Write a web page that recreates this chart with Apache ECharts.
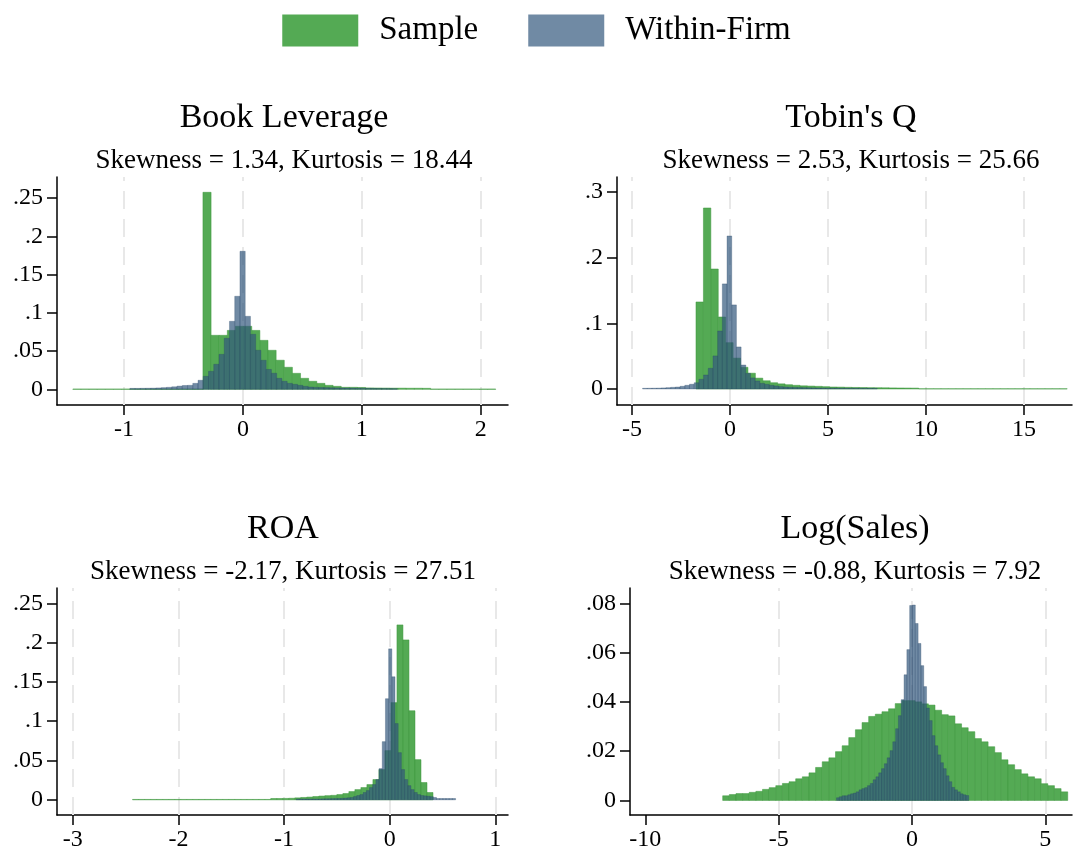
<!DOCTYPE html>
<html>
<head>
<meta charset="utf-8">
<script src="https://cdn.jsdelivr.net/npm/echarts@6/dist/echarts.min.js"></script>
<style>
  html, body { margin: 0; padding: 0; background: #fff; }
  #chart { width: 1073px; height: 852px; }
</style>
</head>
<body>
<div id="chart"></div>
<script>
// histogram bins: start of first bin, bin width, density of each bin
var levSampleStart = -1.431, levSampleWidth = 0.0684
var levSample = [0.0004, 0.0004, 0.0004, 0.0004, 0.0004, 0.0004, 0.0004, 0.0004, 0.0004, 0.0004, 0.0004, 0.0004, 0.0004, 0.0004, 0.0004, 0.0004,
  0.2575, 0.0706, 0.0706, 0.077, 0.0824, 0.0824, 0.077, 0.064, 0.051, 0.038, 0.0288, 0.0209, 0.0144, 0.0105, 0.0078, 0.0052,
  0.0039, 0.0026, 0.0026, 0.0024, 0.0018, 0.0017, 0.0016, 0.0015, 0.0015, 0.0014, 0.0014, 0.0013,
  0.0004, 0.0004, 0.0004, 0.0004, 0.0004, 0.0004, 0.0004, 0.0004]
var levFirmStart = -0.9513, levFirmWidth = 0.0441
var levFirm = [0.0012, 0.0012, 0.0013, 0.0014, 0.0015, 0.0018, 0.0022, 0.0026, 0.0033, 0.0042, 0.005, 0.0052, 0.0078, 0.0118,
  0.017, 0.0235, 0.0327, 0.0457, 0.0667, 0.0889, 0.1216, 0.1804, 0.0954, 0.0719, 0.051, 0.0379, 0.026, 0.021, 0.0144, 0.0105,
  0.0078, 0.0065, 0.0052, 0.0039, 0.003, 0.0026, 0.0024, 0.0022, 0.002, 0.0018, 0.0017, 0.0016, 0.0015, 0.0014, 0.0013,
  0.0012, 0.0011, 0.001, 0.001, 0.0009, 0.0008]

var tqSampleStart = -1.735, tqSampleWidth = 0.3788
var tqSample = [0.1325, 0.2756, 0.1827, 0.1096, 0.0705, 0.047, 0.033, 0.024, 0.0165, 0.0125, 0.0095, 0.0078, 0.0065, 0.0056,
  0.0048, 0.0044, 0.004, 0.0035, 0.003, 0.0028, 0.0025, 0.0023, 0.0022, 0.002, 0.0019, 0.0018, 0.0016, 0.0015, 0.0014, 0.0013,
  0.0003, 0.0003, 0.0003, 0.0003, 0.0003, 0.0003, 0.0003, 0.0003, 0.0003, 0.0003, 0.0003, 0.0003, 0.0003, 0.0003, 0.0003,
  0.0003, 0.0003, 0.0003, 0.0003, 0.0003]
var tqFirmStart = -4.46, tqFirmWidth = 0.2394
var tqFirm = [0.001, 0.0011, 0.0012, 0.0013, 0.0016, 0.002, 0.0025, 0.003, 0.0041, 0.0056, 0.0072, 0.0095, 0.0147, 0.0213,
  0.0315, 0.0503, 0.0883, 0.16, 0.233, 0.128, 0.064, 0.0365, 0.0238, 0.0168, 0.0122, 0.0086, 0.0071, 0.0056, 0.0046, 0.0036,
  0.003, 0.0027, 0.0024, 0.0022, 0.002, 0.0018, 0.0016, 0.0015, 0.0014, 0.0013, 0.0012, 0.0012, 0.0011, 0.0011, 0.001,
  0.001, 0.0009, 0.0009, 0.0008, 0.0008]

var roaSampleStart = -2.435, roaSampleWidth = 0.0569
var roaSample = [0.0005, 0.0005, 0.0005, 0.0005, 0.0005, 0.0005, 0.0005, 0.0005, 0.0005, 0.0005, 0.0005, 0.0005, 0.0005,
  0.0005, 0.0005, 0.0005, 0.0005, 0.0005, 0.0005, 0.0005, 0.0005, 0.0005, 0.0005,
  0.0017, 0.0017, 0.0018, 0.002, 0.0025, 0.003, 0.0035, 0.0042, 0.0048, 0.0053, 0.0057, 0.0067, 0.008, 0.0105, 0.013,
  0.0156, 0.0194, 0.0258, 0.0385, 0.0626, 0.1236, 0.2225, 0.2034, 0.1133, 0.0511, 0.022, 0.0093]
var roaFirmStart = -0.886, roaFirmWidth = 0.0302
var roaFirm = [0.001, 0.001, 0.001, 0.001, 0.001, 0.001, 0.001, 0.001, 0.0012, 0.0013, 0.0014, 0.0015, 0.0016, 0.0017,
  0.0019, 0.0022, 0.0026, 0.003, 0.0042, 0.0055, 0.0067, 0.0093, 0.0118, 0.0156, 0.0194, 0.0258, 0.0397, 0.074, 0.1286,
  0.192, 0.1565, 0.097, 0.06, 0.0385, 0.0258, 0.018, 0.013, 0.0093, 0.0067, 0.0055, 0.005, 0.0046, 0.004, 0.003,
  0.0017, 0.0017, 0.0017, 0.0017, 0.0017, 0.0017]

var salesSampleStart = -7.098, salesSampleWidth = 0.2488
var salesSample = [0.0019, 0.0024, 0.0028, 0.0028, 0.0033, 0.0037, 0.0045, 0.0052, 0.006, 0.0069, 0.0076, 0.0088, 0.0096,
  0.0112, 0.0134, 0.0157, 0.0173, 0.0198, 0.0222, 0.0255, 0.0287, 0.0316, 0.0341, 0.035, 0.036, 0.0372, 0.0393, 0.0405,
  0.0405, 0.04, 0.0392, 0.0387, 0.0366, 0.0348, 0.0343, 0.0311, 0.0295, 0.0279, 0.0251, 0.0238, 0.0218, 0.0194, 0.0165,
  0.0145, 0.0125, 0.0108, 0.0096, 0.0088, 0.0068, 0.006, 0.0048, 0.0035]
var salesFirmStart = -2.83, salesFirmWidth = 0.1055
var salesFirm = [0.0011, 0.0015, 0.0019, 0.0019, 0.0023, 0.0027, 0.003, 0.0035, 0.0043, 0.0048, 0.0052, 0.006, 0.0069,
  0.0084, 0.0096, 0.0112, 0.0129, 0.0149, 0.0173, 0.0202, 0.0238, 0.0291, 0.0344, 0.0409, 0.051, 0.0612, 0.0791, 0.0793,
  0.0718, 0.0637, 0.0547, 0.0462, 0.0375, 0.0324, 0.0263, 0.0222, 0.0185, 0.0153, 0.0129, 0.01, 0.0076, 0.0053, 0.0043,
  0.0035, 0.0027, 0.0023, 0.002]

var panelTitles = ['Book Leverage', "Tobin's Q", 'ROA', 'Log(Sales)']
var panelStats = ['Skewness = 1.34, Kurtosis = 18.44', 'Skewness = 2.53, Kurtosis = 25.66',
  'Skewness = -2.17, Kurtosis = 27.51', 'Skewness = -0.88, Kurtosis = 7.92']

var levXTicks = [-1, 0, 1, 2]
var tqXTicks = [-5, 0, 5, 10, 15]
var roaXTicks = [-3, -2, -1, 0, 1]
var salesXTicks = [-10, -5, 0, 5]
var levYTicks = [0, 0.05, 0.1, 0.15, 0.2, 0.25]
var tqYTicks = [0, 0.1, 0.2, 0.3]
var roaYTicks = [0, 0.05, 0.1, 0.15, 0.2, 0.25]
var salesYTicks = [0, 0.02, 0.04, 0.06, 0.08]
// dashed reference lines (Log(Sales) has none at -10)
var levGrid = [-1, 0, 1, 2]
var tqGrid = [-5, 0, 5, 10, 15]
var roaGrid = [-3, -2, -1, 0, 1]
var salesGrid = [-5, 0, 5]

var FONT = 'Liberation Serif'
var GREEN = '#54aa54'
var BLUE = 'rgba(51,89,126,0.7)'

function bins (start, width, heights) {
  var out = []
  for (var i = 0; i < heights.length; i++) {
    out.push([start + i * width, start + (i + 1) * width, heights[i]])
  }
  return out
}

function renderBin (params, api) {
  var p0 = api.coord([api.value(0), api.value(2)])
  var p1 = api.coord([api.value(1), 0])
  return {
    type: 'rect',
    shape: { x: p0[0], y: p0[1], width: p1[0] - p0[0], height: p1[1] - p0[1] },
    style: api.style()
  }
}

var panels = [
  { grid: { left: 57, top: 177, width: 451, height: 228 }, xMin: -1.564, xMax: 2.229, yMin: -0.0205, yMax: 0.2775,
    xTicks: levXTicks, yTicks: levYTicks, lines: levGrid, titleX: 279, titleY: 96,
    sample: bins(levSampleStart, levSampleWidth, levSample), firm: bins(levFirmStart, levFirmWidth, levFirm) },
  { grid: { left: 617, top: 177, width: 455, height: 228 }, xMin: -5.765, xMax: 17.45, yMin: -0.0244, yMax: 0.3228,
    xTicks: tqXTicks, yTicks: tqYTicks, lines: tqGrid, titleX: 846, titleY: 96,
    sample: bins(tqSampleStart, tqSampleWidth, tqSample), firm: bins(tqFirmStart, tqFirmWidth, tqFirm) },
  { grid: { left: 57, top: 588, width: 451, height: 228 }, xMin: -3.15, xMax: 1.12, yMin: -0.0193, yMax: 0.2694,
    xTicks: roaXTicks, yTicks: roaYTicks, lines: roaGrid, titleX: 278, titleY: 507,
    sample: bins(roaSampleStart, roaSampleWidth, roaSample), firm: bins(roaFirmStart, roaFirmWidth, roaFirm) },
  { grid: { left: 630, top: 588, width: 442, height: 228 }, xMin: -10.574, xMax: 6.0, yMin: -0.0059, yMax: 0.0862,
    xTicks: salesXTicks, yTicks: salesYTicks, lines: salesGrid, titleX: 850, titleY: 507,
    sample: bins(salesSampleStart, salesSampleWidth, salesSample), firm: bins(salesFirmStart, salesFirmWidth, salesFirm) }
]

var grids = []
var xAxes = []
var yAxes = []
var series = []
var titles = []

var axisLine = { show: true, onZero: false, lineStyle: { color: '#000', width: 1.5 } }

panels.forEach(function (p, i) {
  grids.push(p.grid)
  xAxes.push({
    type: 'value', gridIndex: i, min: p.xMin, max: p.xMax,
    axisLine: axisLine,
    axisTick: { show: true, length: 10, customValues: p.xTicks, lineStyle: { color: '#000', width: 1.5 } },
    axisLabel: { customValues: p.xTicks, margin: 13, fontFamily: FONT, fontSize: 24, color: '#000' },
    splitLine: { show: false }
  })
  yAxes.push({
    type: 'value', gridIndex: i, min: p.yMin, max: p.yMax,
    axisLine: axisLine,
    axisTick: { show: true, length: 10, customValues: p.yTicks, lineStyle: { color: '#000', width: 1.5 } },
    axisLabel: {
      customValues: p.yTicks, margin: 14, fontFamily: FONT, fontSize: 24, color: '#000',
      formatter: function (v) { return v === 0 ? '0' : String(+v.toFixed(4)).replace(/^0/, '') }
    },
    splitLine: { show: false }
  })
  series.push({
    name: 'Sample', type: 'custom', xAxisIndex: i, yAxisIndex: i, z: 2,
    renderItem: renderBin, encode: { x: [0, 1], y: 2 }, data: p.sample,
    itemStyle: { color: GREEN, borderColor: '#3c963c', borderWidth: 0.5 },
    markLine: {
      silent: true, symbol: 'none', z: 1, animation: false,
      label: { show: false },
      lineStyle: { color: '#e8e8e8', width: 2, type: [18, 10] },
      data: p.lines.map(function (v) { return { xAxis: v } })
    }
  })
  series.push({
    name: 'Within-Firm', type: 'custom', xAxisIndex: i, yAxisIndex: i, z: 3,
    renderItem: renderBin, encode: { x: [0, 1], y: 2 }, data: p.firm,
    itemStyle: { color: BLUE, borderColor: 'rgba(40,70,105,0.6)', borderWidth: 0.5 }
  })
  titles.push({
    text: panelTitles[i], left: p.titleX, top: p.titleY, textAlign: 'center',
    textStyle: { fontFamily: FONT, fontSize: 34, fontWeight: 'normal', color: '#000' }
  })
  titles.push({
    text: panelStats[i], left: p.titleX, top: p.titleY + 46, textAlign: 'center',
    textStyle: { fontFamily: FONT, fontSize: 27, fontWeight: 'normal', color: '#000' }
  })
})

var chart = echarts.init(document.getElementById('chart'), null, { renderer: 'canvas' })
chart.setOption({
  animation: false,
  backgroundColor: '#fff',
  title: titles,
  legend: {
    data: ['Sample', 'Within-Firm'], top: 9, left: 'center',
    icon: 'rect', itemWidth: 76, itemHeight: 32, itemGap: 50,
    itemStyle: { borderWidth: 0 },
    textStyle: { fontFamily: FONT, fontSize: 33, color: '#000', padding: [0, 0, 0, 16] }
  },
  grid: grids,
  xAxis: xAxes,
  yAxis: yAxes,
  series: series
})
</script>
</body>
</html>
